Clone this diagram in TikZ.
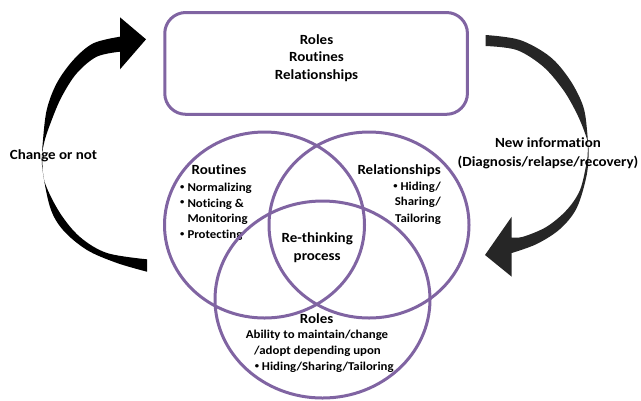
\documentclass[tikz,border=0pt]{standalone}
\usepackage{fontspec}
\setmainfont{Carlito}[FakeStretch=1.07, Ligatures=NoCommon]
\usetikzlibrary{shapes.geometric}
\definecolor{vpurple}{HTML}{8064A2}
\definecolor{darkarrow}{HTML}{262626}
\tikzset{
  lbl/.style={inner sep=0pt, anchor=base, font=\bfseries\fontsize{14bp}{17bp}\selectfont},
  sml/.style={inner sep=0pt, anchor=base, font=\bfseries\fontsize{12bp}{15bp}\selectfont},
  ring/.style={draw=vpurple, line width=3bp},
  venn/.style={ring, ellipse, inner sep=0pt, outer sep=0pt},
}
\newcommand{\smallbul}{\raisebox{0.17em}{\fontsize{8bp}{8bp}\selectfont•}}
\newcommand{\bul}{\makebox[7.3bp][l]{\smallbul}}
\begin{document}
\begin{tikzpicture}[x=1bp, y=-1bp]
\useasboundingbox (0,0) rectangle (641,400);

% box
\node[ring, rounded corners=21bp, minimum width=302.7bp, minimum height=101.8bp, inner sep=0pt] (box) at (316.1,63.4) {};
\node[lbl] (b1) at (316.5,44) {Roles};
\node[lbl] (b2) at (316.5,61.3) {Routines};
\node[lbl] (b3) at (316.5,79) {Relationships};

% left curved arrow
\fill[black] plot[smooth, tension=0.55] coordinates {(147,259.3) (107,253) (80,237) (60,213) (45,183) (42.3,160) (42.7,143.3) (46.7,110) (56.7,83.3) (73.3,60) (93.3,43.3) (120,36.7)}
  -- (120,17.3) -- (146,39.3) -- (120,69.3) -- (120,51.7)
  -- plot[smooth, tension=0.55] coordinates {(120,51.7) (96.7,56.7) (76.7,73.3) (61.7,96.7) (51.7,120) (44,143.3) (42,165) (50,207) (63,230) (87,250) (117,263) (147,271.7)} -- cycle;

% right curved arrow
\fill[darkarrow] plot[smooth, tension=0.55] coordinates {(485.7,35) (520,40) (550,56.7) (570,80) (583.3,106.7) (587.3,133.3) (587.8,150) (586.7,162) (580,190) (566.7,210) (546.7,226.7) (523.3,236.7) (511.7,237.5)}
  -- (511.7,216.7) -- (485,255) -- (511.7,276.7) -- (511.7,253)
  -- plot[smooth, tension=0.55] coordinates {(511.7,253) (536.7,244) (560,229) (576.7,208) (586.7,175) (588.5,148) (585,133.3) (576.7,113.3) (563.3,90) (543.3,66.7) (516.7,50) (485.7,46)} -- cycle;

\node[lbl] (chg) at (53.5,159.5) {Change or not};
\node[lbl] (newinfo) at (548,147.3) {New information};
\node[lbl] (diag) at (548,166.3) {(Diagnosis/relapse/recovery)};

% Routines text
\node[lbl] (rth) at (219,174.7) {Routines};
\node[sml, anchor=base west] (r1) at (180,191.8) {\bul Normalizing};
\node[sml, anchor=base west] (r2) at (180,207) {\bul Noticing \&};
\node[sml, anchor=base west] (r3) at (187.3,222.5) {Monitoring};
\node[sml, anchor=base west] (r4) at (180,238.5) {\bul Protecting};

% Relationships text
\node[lbl, anchor=base east] (relh) at (441,174.7) {Relationships};
\node[sml, anchor=base east] (l1) at (441,190.2) {\smallbul\ Hiding/};
\node[sml, anchor=base east] (l2) at (441,205.8) {Sharing/};
\node[sml, anchor=base east] (l3) at (441,222.5) {Tailoring};

% centre
\node[lbl] (re1) at (317.2,242.3) {Re-thinking};
\node[lbl] (re2) at (317.2,260.7) {process};

% Roles text
\node[lbl] (roh) at (316.7,323) {Roles};
\node[sml] (ro1) at (317,338.5) {Ability to maintain/change};
\node[sml] (ro2) at (317.5,354.2) {/adopt depending upon};
\node[sml] (ro3) at (324.2,370.2) {\smallbul\ Hiding/Sharing/Tailoring};

% circles
\node[venn, minimum width=200bp, minimum height=186bp] (croutines) at (264.5,225) {};
\node[venn, minimum width=200bp, minimum height=186bp] (crelations) at (369,225) {};
\node[venn, minimum width=215bp, minimum height=197bp] (croles) at (322.5,299.5) {};
\end{tikzpicture}
\end{document}
